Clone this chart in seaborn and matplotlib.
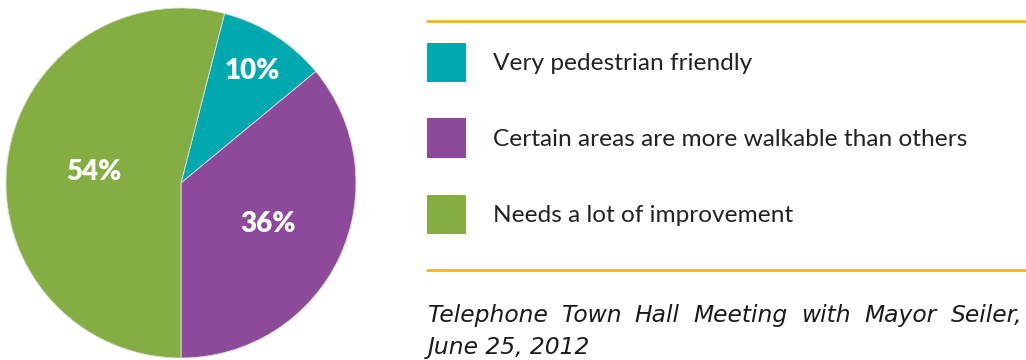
import matplotlib
matplotlib.use("Agg")
import matplotlib.pyplot as plt
import seaborn as sns
import numpy as np
from matplotlib.patches import Rectangle
from matplotlib.lines import Line2D

categories = ["Very pedestrian friendly",
              "Certain areas are more walkable than others",
              "Needs a lot of improvement"]
values = [10, 36, 54]
pct_labels = ["10%", "36%", "54%"]
caption_lines = ["Telephone Town Hall Meeting with Mayor Seiler,", "June 25, 2012"]

colors = ["#00A9B0", "#8E4A9A", "#84AE41"]
gold = "#F2B71E"
label_radius = [0.76, 0.55, 0.50]

sns.set_theme(style="white")
plt.rcParams['font.family'] = ['Lato', 'DejaVu Sans']
palette = sns.color_palette(colors)

W, H = 1026, 360
fig = plt.figure(figsize=(W / 100, H / 100), dpi=100)

def px(x, y):
    return x / W, 1 - y / H

# pie axes: circle spans x 5..357, y 8..358
ax = fig.add_axes([5 / W, 2 / H, 352 / W, 350 / H])
wedges, _ = ax.pie(values, colors=palette, startangle=75.6, counterclock=False,
                   wedgeprops=dict(linewidth=0.6, edgecolor="#dddddd"))
ax.set_xlim(-1, 1)
ax.set_ylim(-1, 1)
ax.set_aspect("equal")
ax.axis("off")

for w, lab, r in zip(wedges, pct_labels, label_radius):
    ang = np.deg2rad((w.theta1 + w.theta2) / 2)
    ax.text(r * np.cos(ang), r * np.sin(ang), lab, ha="center", va="center",
            color="white", fontsize=20, fontweight="heavy", family=["Lato", "DejaVu Sans"])

# gold rules
for yy in (21, 270):
    x0, y0 = px(427, yy)
    x1, _ = px(1026, yy)
    fig.add_artist(Line2D([x0, x1], [y0, y0], color=gold, linewidth=2, transform=fig.transFigure))

# legend
row_y = [62, 138, 214]
for c, cat, yy in zip(palette, categories, row_y):
    x0, y0 = px(427, yy + 19.5)
    fig.add_artist(Rectangle((x0, y0), 39 / W, 39 / H, facecolor=c, edgecolor="none",
                             transform=fig.transFigure))
    tx, ty = px(493, yy + 1)
    fig.text(tx, ty, cat, ha="left", va="center", fontsize=17.6, color="#222222")

# caption: first line justified across 428..1022
cap_font = dict(fontsize=16.8, style="italic", color="#1a1a1a",
                family=["DejaVu Sans"])
renderer = fig.canvas.get_renderer()
for i, (line, yy) in enumerate(zip(caption_lines, [322, 354])):
    tx, ty = px(428, yy)
    if i == len(caption_lines) - 1:
        fig.text(tx, ty, line, ha="left", va="baseline", **cap_font)
        continue
    words = line.split(" ")
    arts = [fig.text(0, ty, wd, ha="left", va="baseline", **cap_font) for wd in words]
    widths = [a.get_window_extent(renderer).width for a in arts]
    gap = ((1022 - 428) - sum(widths)) / (len(words) - 1)
    xcur = 428.0
    for a, wdt in zip(arts, widths):
        a.set_x(xcur / W)
        xcur += wdt + gap

fig.savefig("out.png", dpi=100)
